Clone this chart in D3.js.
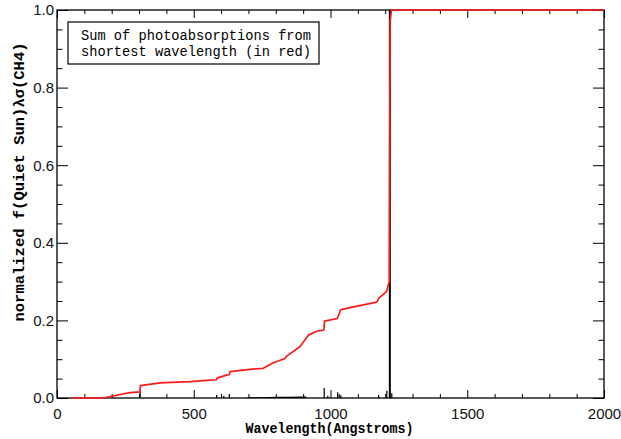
<!DOCTYPE html>
<html>
<head>
<meta charset="utf-8">
<script src="https://cdn.jsdelivr.net/npm/d3@7"></script>
<style>
  html, body { margin: 0; padding: 0; background: #fff; }
  svg { display: block; }
  .tick text { font-family: "Liberation Sans", Arial, sans-serif; font-size: 15px; fill: #111; }
  .ttl { font-family: "Liberation Mono", "Courier New", monospace; fill: #000; }
</style>
</head>
<body>
<svg id="chart" width="621" height="439"></svg>
<script>
// Cumulative photoabsorption (normalized), summed from the shortest wavelength
const sumWavelength = [55, 168, 267, 303, 305, 377, 486, 559, 582, 586, 620, 629, 633, 706, 754,
  761, 791, 834, 840, 888, 919, 950, 974, 976, 978, 1025, 1037, 1071, 1169, 1178, 1205, 1211,
  1215, 1218, 1223, 2000];
const sumValue = [0, 0, 0.0137, 0.016, 0.032, 0.039, 0.042, 0.046, 0.047, 0.052, 0.059, 0.060,
  0.068, 0.074, 0.0765, 0.079, 0.091, 0.102, 0.108, 0.132, 0.162, 0.172, 0.175, 0.176, 0.198,
  0.205, 0.227, 0.233, 0.247, 0.258, 0.274, 0.291, 0.30, 0.97, 1.0, 1.0];

// Emission-line contributions f(Quiet Sun) * lambda * sigma(CH4)
const lineWavelength = [304, 584, 610, 630, 977, 990, 1026, 1032, 1038, 1176, 1206, 1217, 1224];
const lineValue = [0.016, 0.008, 0.006, 0.010, 0.026, 0.006, 0.015, 0.010, 0.007, 0.008, 0.019, 1.0, 0.012];

// Weak continuum contribution below the Lyman limit
const contWavelength = [690, 700, 750, 800, 850, 900, 911, 912];
const contValue = [0, 0.002, 0.002, 0.003, 0.003, 0.004, 0.004, 0];

const xMajor = [0, 500, 1000, 1500, 2000];
const yMajor = [0, 0.2, 0.4, 0.6, 0.8, 1.0];
const xLabel = "Wavelength(Angstroms)";
const yLabel = "normalized f(Quiet Sun)λσ(CH4)";
const legendLines = ["Sum of photoabsorptions from", "shortest wavelength (in red)"];

const svg = d3.select("#chart");
const L = 57, R = 604, T = 10, B = 398;
const x = d3.scaleLinear().domain([0, 2000]).range([L, R]);
const y = d3.scaleLinear().domain([0, 1]).range([B, T]);

const xMinor = d3.range(0, 2001, 100).filter(v => v % 500 !== 0);
const yMinor = d3.range(0, 1.0001, 0.05).map(v => +v.toFixed(2)).filter(v => Math.round(v * 100) % 20 !== 0);

// Axes with inward ticks on all four sides
function styleAxis(g) {
  g.select(".domain").remove();
  g.selectAll(".tick line").attr("stroke", "#000").attr("stroke-width", 1);
}
svg.append("g").attr("transform", `translate(0,${B})`)
  .call(d3.axisBottom(x).tickValues(xMajor).tickSize(-8).tickPadding(10).tickFormat(d3.format("d")))
  .call(styleAxis);
svg.append("g").attr("transform", `translate(0,${B})`)
  .call(d3.axisBottom(x).tickValues(xMinor).tickSize(-4).tickFormat(""))
  .call(styleAxis);
svg.append("g").attr("transform", `translate(0,${T})`)
  .call(d3.axisTop(x).tickValues(xMajor).tickSize(-8).tickFormat(""))
  .call(styleAxis);
svg.append("g").attr("transform", `translate(0,${T})`)
  .call(d3.axisTop(x).tickValues(xMinor).tickSize(-4).tickFormat(""))
  .call(styleAxis);
svg.append("g").attr("transform", `translate(${L},0)`)
  .call(d3.axisLeft(y).tickValues(yMajor).tickSize(-11).tickPadding(3).tickFormat(d3.format(".1f")))
  .call(styleAxis);
svg.append("g").attr("transform", `translate(${L},0)`)
  .call(d3.axisLeft(y).tickValues(yMinor).tickSize(-5.5).tickFormat(""))
  .call(styleAxis);
svg.append("g").attr("transform", `translate(${R},0)`)
  .call(d3.axisRight(y).tickValues(yMajor).tickSize(-11).tickFormat(""))
  .call(styleAxis);
svg.append("g").attr("transform", `translate(${R},0)`)
  .call(d3.axisRight(y).tickValues(yMinor).tickSize(-5.5).tickFormat(""))
  .call(styleAxis);

// Frame
svg.append("rect").attr("x", L).attr("y", T).attr("width", R - L).attr("height", B - T)
  .attr("fill", "none").attr("stroke", "#000").attr("stroke-width", 1.3);

// Clip data to the plot frame (slightly padded so lines on the edges stay whole)
svg.append("defs").append("clipPath").attr("id", "plotclip")
  .append("rect").attr("x", L).attr("y", T - 1).attr("width", R - L).attr("height", B - T + 2);

const plot = svg.append("g").attr("clip-path", "url(#plotclip)");

// Continuum
plot.append("path")
  .datum(contWavelength.map((w, i) => [w, contValue[i]]))
  .attr("fill", "#000")
  .attr("d", d3.area().x(d => x(d[0])).y0(y(0)).y1(d => y(d[1])));

// Emission lines
plot.selectAll("line.em").data(lineWavelength.map((w, i) => [w, lineValue[i]]))
  .join("line").attr("class", "em")
  .attr("x1", d => x(d[0])).attr("x2", d => x(d[0]))
  .attr("y1", y(0)).attr("y2", d => y(d[1]))
  .attr("stroke", "#000")
  .attr("stroke-width", d => d[1] > 0.5 ? 2 : 1.2);

// Cumulative sum (red)
plot.append("path")
  .datum(sumWavelength.map((w, i) => [w, sumValue[i]]))
  .attr("fill", "none")
  .attr("stroke", "#ff1a1a")
  .attr("stroke-width", 1.7)
  .attr("stroke-linejoin", "round")
  .attr("d", d3.line().x(d => x(d[0])).y(d => y(d[1])));

// Axis titles
svg.append("text").attr("class", "ttl")
  .attr("x", (L + R) / 2 - 1).attr("y", 433).attr("text-anchor", "middle")
  .attr("font-size", 15).attr("font-weight", "bold")
  .attr("textLength", 168).attr("lengthAdjust", "spacingAndGlyphs")
  .text(xLabel);
svg.append("text").attr("class", "ttl")
  .attr("transform", "translate(24,182) rotate(-90)")
  .attr("text-anchor", "middle")
  .attr("font-size", 15).attr("font-weight", "bold")
  .attr("textLength", 279).attr("lengthAdjust", "spacingAndGlyphs")
  .text(yLabel);

// Legend box
svg.append("rect").attr("x", 68).attr("y", 22).attr("width", 251).attr("height", 42)
  .attr("fill", "#fff").attr("stroke", "#000").attr("stroke-width", 1.2);
legendLines.forEach((t, i) => {
  svg.append("text").attr("class", "ttl")
    .attr("x", 81).attr("y", 40 + i * 16)
    .attr("font-size", 14.5)
    .attr("textLength", 230).attr("lengthAdjust", "spacingAndGlyphs")
    .text(t);
});
</script>
</body>
</html>
